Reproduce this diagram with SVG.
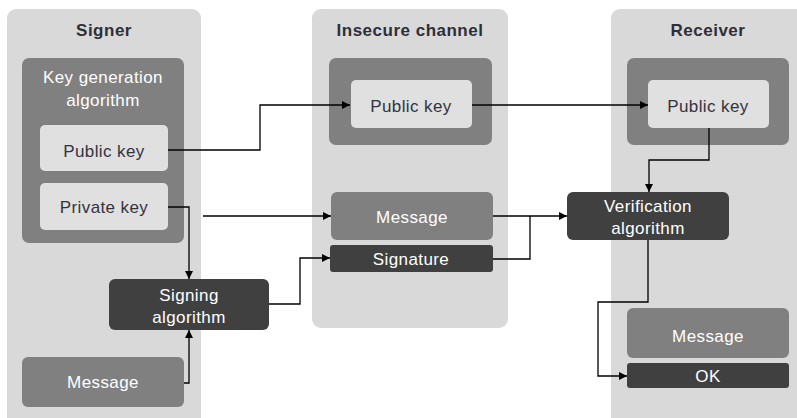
<svg xmlns="http://www.w3.org/2000/svg" width="797" height="418" viewBox="0 0 797 418">
<defs>
<marker id="ah" viewBox="0 0 10 10" refX="10" refY="5" markerWidth="8" markerHeight="8" markerUnits="userSpaceOnUse" orient="auto">
<path d="M0,0 L10,5 L0,10 Z" fill="#000"/>
</marker>
<style>
.lane{fill:#d9d9d9}
.mid{fill:#808080}
.light{fill:#e0e0e0}
.dark{fill:#404040}
text{font-family:"Liberation Sans",Arial,sans-serif;font-size:17px;letter-spacing:0.4px;text-anchor:middle}
.title{font-weight:bold;fill:#2e2e38;letter-spacing:0.5px}
.tw{fill:#ffffff}
.td{fill:#333340}
.conn{fill:none;stroke:#000;stroke-width:1.3}
</style>
</defs>
<rect width="797" height="418" fill="#ffffff"/>

<g id="lane-signer">
<rect class="lane" x="7" y="9" width="194" height="420" rx="9"/>
<text class="title" x="104" y="36">Signer</text>
</g>
<g id="lane-channel">
<rect class="lane" x="312" y="9" width="196" height="319" rx="9"/>
<text class="title" x="410" y="36">Insecure channel</text>
</g>
<g id="lane-receiver">
<rect class="lane" x="611" y="9" width="200" height="420" rx="9"/>
<text class="title" x="708" y="36">Receiver</text>
</g>

<g id="keygen">
<rect class="mid" x="22" y="58" width="162" height="185" rx="7"/>
<text class="tw" x="103" y="83">Key generation</text>
<text class="tw" x="103" y="106">algorithm</text>
</g>
<g id="signer-public-key">
<rect class="light" x="40" y="125" width="128" height="46" rx="5"/>
<text class="td" x="104" y="157">Public key</text>
</g>
<g id="signer-private-key">
<rect class="light" x="40" y="183" width="128" height="47" rx="5"/>
<text class="td" x="104" y="213">Private key</text>
</g>
<g id="signing-algorithm">
<rect class="dark" x="109" y="279" width="160" height="51" rx="6"/>
<text class="tw" x="189" y="301">Signing</text>
<text class="tw" x="189" y="323">algorithm</text>
</g>
<g id="signer-message">
<rect class="mid" x="22" y="357" width="162" height="50" rx="6"/>
<text class="tw" x="103" y="388">Message</text>
</g>

<g id="channel-key-box">
<rect class="mid" x="329" y="58" width="163" height="87" rx="7"/>
</g>
<g id="channel-public-key">
<rect class="light" x="351" y="80" width="121" height="48" rx="5"/>
<text class="td" x="411" y="112">Public key</text>
</g>
<g id="channel-message">
<rect class="mid" x="331" y="192" width="162" height="48" rx="6"/>
<text class="tw" x="412" y="223">Message</text>
</g>
<g id="channel-signature">
<rect class="dark" x="330" y="245" width="163" height="27" rx="3"/>
<text class="tw" x="411" y="265">Signature</text>
</g>

<g id="receiver-key-box">
<rect class="mid" x="627" y="58" width="162" height="87" rx="7"/>
</g>
<g id="receiver-public-key">
<rect class="light" x="648" y="80" width="121" height="48" rx="5"/>
<text class="td" x="708" y="112">Public key</text>
</g>
<g id="verification-algorithm">
<rect class="dark" x="567" y="192" width="162" height="48" rx="6"/>
<text class="tw" x="648" y="212">Verification</text>
<text class="tw" x="648" y="234">algorithm</text>
</g>
<g id="receiver-message">
<rect class="mid" x="627" y="308" width="162" height="50" rx="6"/>
<text class="tw" x="708" y="342">Message</text>
</g>
<g id="receiver-ok">
<rect class="dark" x="627" y="363" width="162" height="25" rx="3"/>
<text class="tw" x="708" y="382">OK</text>
</g>

<g id="connectors">
<path class="conn" d="M168,150 H260 V105 H350" marker-end="url(#ah)"/>
<path class="conn" d="M168,207 H189 V279" marker-end="url(#ah)"/>
<path class="conn" d="M184,383 H189 V330" marker-end="url(#ah)"/>
<path class="conn" d="M203,216 H331" marker-end="url(#ah)"/>
<path class="conn" d="M269,304 H300 V258 H330" marker-end="url(#ah)"/>
<path class="conn" d="M472,105 H648" marker-end="url(#ah)"/>
<path class="conn" d="M709,128 V160 H649 V192" marker-end="url(#ah)"/>
<path class="conn" d="M493,216 H567" marker-end="url(#ah)"/>
<path class="conn" d="M493,259 H530 V216"/>
<path class="conn" d="M648,240 V302 H598 V376 H627" marker-end="url(#ah)"/>
</g>
</svg>
